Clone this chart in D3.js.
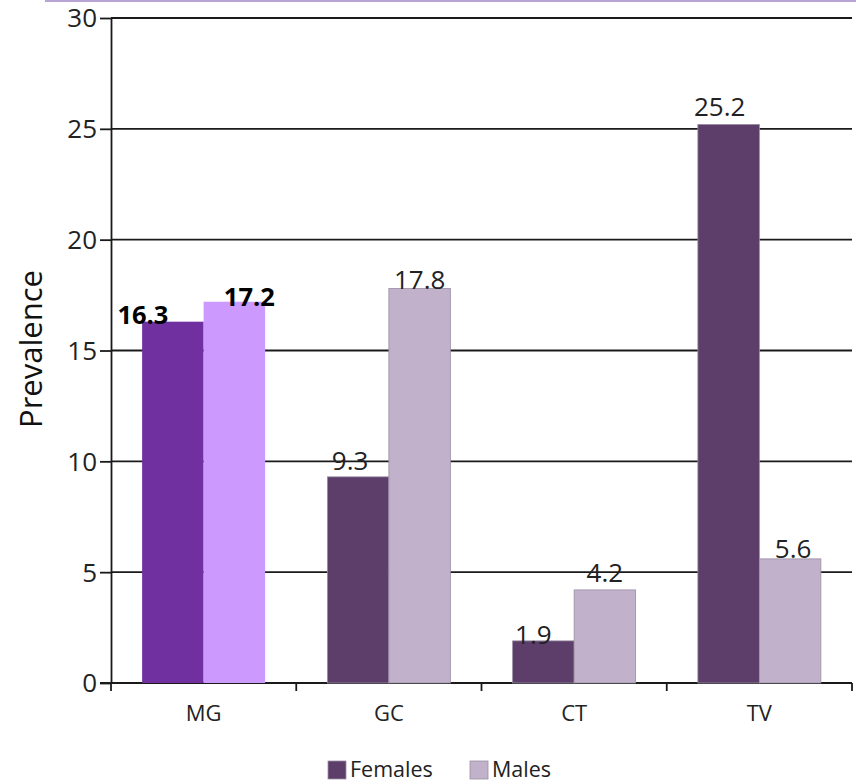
<!DOCTYPE html>
<html>
<head>
<meta charset="utf-8">
<script src="https://cdn.jsdelivr.net/npm/d3@7"></script>
<style>
  html, body { margin: 0; padding: 0; background: #fff; }
  svg { display: block; }
  text { font-family: "Open Sans", Lato, sans-serif; }
</style>
</head>
<body>
<svg id="chart" width="856" height="784"></svg>
<script>
// Prevalence by infection and sex
const categories = ["MG", "GC", "CT", "TV"];
const series = ["Females", "Males"];
const females = [16.3, 9.3, 1.9, 25.2];
const males = [17.2, 17.8, 4.2, 5.6];
const yTicks = [0, 5, 10, 15, 20, 25, 30];

const svg = d3.select("#chart");
const margin = { left: 111, right: 4, top: 18, bottom: 101 };
const W = 856, H = 784;
const plotR = W - margin.right, plotB = H - margin.bottom;

const x = d3.scaleBand().domain(categories).range([margin.left, plotR]);
const y = d3.scaleLinear().domain([0, 30]).range([plotB, margin.top]);

// Fill colours; the MG pair is highlighted in brighter purples
const palette = { Females: "#5d3d6a", Males: "#c1b1ca" };
const highlight = { Females: "#7030a0", Males: "#cc99ff" };

// Hand placement of the value labels (dx, baseline offset from bar top)
const labelNudge = {
  Females: [[-30, 2], [-8, -7], [-10, 3], [-9, -8]],
  Males: [[15, 4], [0, 1], [0, -8], [3, -1]]
};

// thin rule along the top edge
svg.append("line").attr("x1", 45).attr("x2", W).attr("y1", 1).attr("y2", 1)
  .attr("stroke", "#b9a3d3").attr("stroke-width", 2);

// horizontal gridlines
svg.append("g").selectAll("line").data(yTicks.filter(d => d > 0)).join("line")
  .attr("x1", margin.left).attr("x2", plotR)
  .attr("y1", d => y(d)).attr("y2", d => y(d))
  .attr("stroke", "#1a1a1a").attr("stroke-width", 1.8);

// y axis
const yAxis = svg.append("g").attr("transform", `translate(${margin.left},0)`)
  .call(d3.axisLeft(y).tickValues(yTicks).tickSize(11).tickSizeOuter(0).tickPadding(3));
yAxis.select(".domain").attr("stroke", "#1a1a1a").attr("stroke-width", 1.8);
yAxis.selectAll(".tick line").attr("stroke", "#1a1a1a").attr("stroke-width", 1.8);
yAxis.selectAll(".tick text").attr("font-size", 26).attr("fill", "#222")
  .attr("font-family", "'Open Sans', sans-serif").attr("dy", "0.34em");

// x axis with ticks at the band edges
const xAxisG = svg.append("g").attr("transform", `translate(0,${plotB})`);
xAxisG.append("line").attr("x1", margin.left - 11).attr("x2", plotR)
  .attr("stroke", "#1a1a1a").attr("stroke-width", 1.8);
const edges = categories.map(c => x(c)).concat([x(categories[categories.length - 1]) + x.bandwidth()]);
xAxisG.selectAll("line.edge").data(edges).join("line").attr("class", "edge")
  .attr("x1", d => d).attr("x2", d => d).attr("y1", 0).attr("y2", 8)
  .attr("stroke", "#1a1a1a").attr("stroke-width", 1.8);
xAxisG.selectAll("text.cat").data(categories).join("text").attr("class", "cat")
  .attr("x", d => x(d) + x.bandwidth() / 2).attr("y", 38)
  .attr("text-anchor", "middle").attr("font-size", 22).attr("fill", "#222")
  .text(d => d);

// bars
const rows = categories.map((c, i) => ({ cat: c, i, values: [
  { s: "Females", v: females[i] }, { s: "Males", v: males[i] }
] }));
const barW = 61.5;
const inner = d3.scaleBand().domain(series).range([0, 2 * barW]);
const groups = svg.append("g").selectAll("g").data(rows).join("g")
  .attr("transform", d => `translate(${x(d.cat) + x.bandwidth() / 2 - barW},0)`);

groups.selectAll("rect").data(d => d.values.map(v => ({ ...v, i: d.i }))).join("rect")
  .attr("x", d => inner(d.s))
  .attr("y", d => y(d.v))
  .attr("width", inner.bandwidth())
  .attr("height", d => plotB - y(d.v))
  .attr("fill", d => d.i === 0 ? highlight[d.s] : palette[d.s])
  .attr("stroke", d => d.i === 0 ? "none" : "#9a8fa3")
  .attr("stroke-width", 0.8);

// value labels
groups.selectAll("text").data(d => d.values.map(v => ({ ...v, i: d.i }))).join("text")
  .attr("x", d => inner(d.s) + inner.bandwidth() / 2 + labelNudge[d.s][d.i][0])
  .attr("y", d => y(d.v) + labelNudge[d.s][d.i][1])
  .attr("text-anchor", "middle")
  .attr("font-size", d => d.i === 0 ? 25.5 : 26)
  .attr("font-weight", d => d.i === 0 ? "bold" : "normal")
  .attr("fill", d => d.i === 0 ? "#000" : "#222")
  .text(d => d.v.toFixed(1));

// y-axis title
svg.append("text").attr("transform", `translate(42,${349}) rotate(-90)`)
  .attr("text-anchor", "middle").attr("font-size", 31).attr("fill", "#111")
  .text("Prevalence");

// legend
const legend = svg.append("g").attr("transform", "translate(328,761)");
const legItems = [{ s: "Females", x: 0 }, { s: "Males", x: 142 }];
legItems.forEach(it => {
  legend.append("rect").attr("x", it.x).attr("y", 0).attr("width", 18).attr("height", 18)
    .attr("fill", palette[it.s]).attr("stroke", "#9a8fa3").attr("stroke-width", 0.8);
  legend.append("text").attr("x", it.x + 22).attr("y", 16).attr("font-size", 21.5)
    .attr("fill", "#222").text(it.s);
});
</script>
</body>
</html>
